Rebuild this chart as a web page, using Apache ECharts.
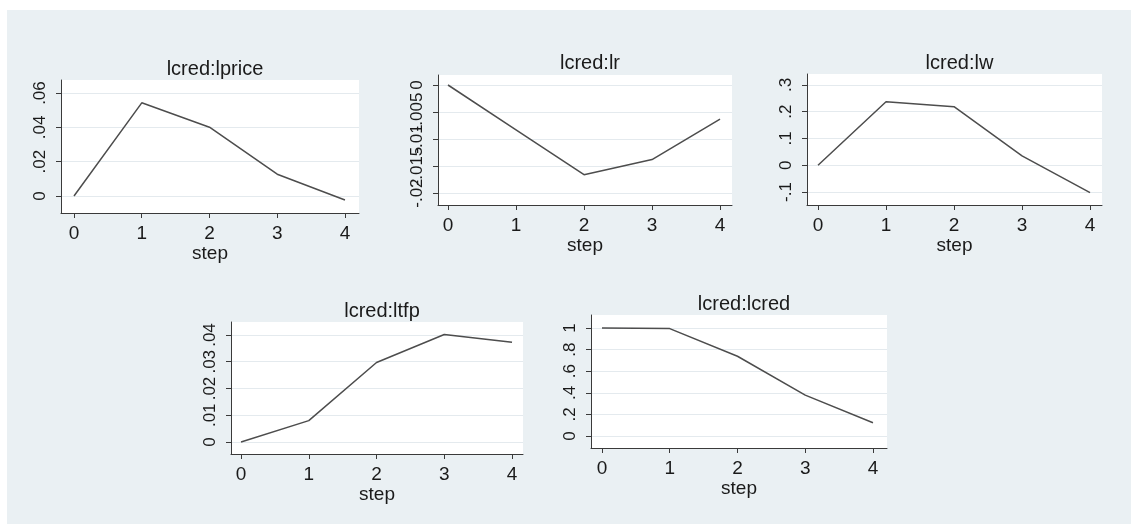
<!DOCTYPE html>
<html>
<head>
<meta charset="utf-8">
<script src="https://cdn.jsdelivr.net/npm/echarts@6/dist/echarts.min.js"></script>
<style>
html,body{margin:0;padding:0;background:#fff;}
#bg{position:absolute;left:7px;top:10px;right:0;bottom:0;background:#eaf0f3;}
#chart{position:absolute;left:0;top:0;width:1131px;height:524px;}
</style>
</head>
<body>
<div id="bg"></div>
<div id="chart"></div>
<script>
// ---- data ----
var steps = [0, 1, 2, 3, 4];
var titles = ['lcred:lprice', 'lcred:lr', 'lcred:lw', 'lcred:ltfp', 'lcred:lcred'];
var lprice = [0, 0.0543, 0.0401, 0.0127, -0.0023];
var lr = [0, -0.0083, -0.0166, -0.0138, -0.0063];
var lw = [0, 0.2375, 0.219, 0.035, -0.1025];
var ltfp = [0, 0.0080, 0.0297, 0.0402, 0.0373];
var lcred = [1, 0.994, 0.738, 0.378, 0.123];
var xTicks = [0, 1, 2, 3, 4];
var lpriceTicks = [0, 0.02, 0.04, 0.06];
var lrTicks = [-0.02, -0.015, -0.01, -0.005, 0];
var lwTicks = [-0.1, 0, 0.1, 0.2, 0.3];
var ltfpTicks = [0, 0.01, 0.02, 0.03, 0.04];
var lcredTicks = [0, 0.2, 0.4, 0.6, 0.8, 1];
var xLabel = 'step';

var seriesValues = [lprice, lr, lw, ltfp, lcred];
var yTickSets = [lpriceTicks, lrTicks, lwTicks, ltfpTicks, lcredTicks];

// ---- layout ----
var grids = [
  {left: 61, top: 80, width: 298, height: 133},
  {left: 438, top: 75, width: 294, height: 130},
  {left: 807, top: 74, width: 295, height: 131},
  {left: 231, top: 322, width: 292, height: 132},
  {left: 591, top: 315, width: 296, height: 133}
];
var xRanges = [[-0.192, 4.207], [-0.147, 4.176], [-0.162, 4.176], [-0.148, 4.162], [-0.162, 4.207]];
var yRanges = [[-0.0099, 0.0676], [-0.0222, 0.00185], [-0.1486, 0.341], [-0.00449, 0.04486], [-0.111, 1.12]];
var titleTops = [54, 48, 48, 296, 289];

var FONT = 'Liberation Sans, Arial, sans-serif';
var AX = '#3a3a3a';

function stataFmt(v) {
  var s = String(parseFloat(Number(v).toFixed(6)));
  return s.replace(/^0\./, '.').replace(/^-0\./, '-.');
}

var option = {
  animation: false,
  title: [], grid: [], xAxis: [], yAxis: [], series: []
};

for (var i = 0; i < 5; i++) {
  var g = grids[i];
  var ticks = yTickSets[i];
  var evenTicks = ticks.filter(function (t, k) { return k % 2 === 0; });
  var oddTicks = ticks.filter(function (t, k) { return k % 2 === 1; });
  option.grid.push({
    left: g.left, top: g.top, width: g.width, height: g.height,
    show: true, backgroundColor: '#ffffff', borderWidth: 0, containLabel: false
  });
  option.title.push({
    text: titles[i],
    left: g.left + g.width / 2,
    top: titleTops[i],
    textAlign: 'center',
    textStyle: {fontFamily: FONT, fontSize: 20, fontWeight: 'normal', color: '#1a1a1a'}
  });
  option.xAxis.push({
    type: 'value', gridIndex: i,
    min: xRanges[i][0], max: xRanges[i][1],
    name: xLabel, nameLocation: 'middle', nameGap: 28,
    nameTextStyle: {fontFamily: FONT, fontSize: 19, color: '#1a1a1a'},
    axisLine: {show: true, onZero: false, lineStyle: {color: AX, width: 1}},
    axisTick: {show: true, length: 5, customValues: xTicks, lineStyle: {color: AX}},
    axisLabel: {show: true, customValues: xTicks, margin: 11, hideOverlap: false,
      fontFamily: FONT, fontSize: 19, color: '#1a1a1a',
      formatter: function (v) { return String(v); }},
    splitLine: {show: false}
  });
  // main y axis: line, all ticks, gridlines, labels at even positions
  option.yAxis.push({
    type: 'value', gridIndex: i, position: 'left',
    min: yRanges[i][0], max: yRanges[i][1],
    axisLine: {show: true, onZero: false, lineStyle: {color: AX, width: 1}},
    axisTick: {show: true, length: 5, customValues: ticks, lineStyle: {color: AX}},
    axisLabel: {show: true, customValues: evenTicks, rotate: 90, margin: 12,
      hideOverlap: false, showMinLabel: true, showMaxLabel: true,
      fontFamily: FONT, fontSize: 17, color: '#1a1a1a',
      formatter: stataFmt},
    splitLine: {show: true, lineStyle: {color: '#e4eaee', width: 1}}
  });
  // companion y axis carrying the labels at odd positions (same scale)
  option.yAxis.push({
    type: 'value', gridIndex: i, position: 'left', offset: 0,
    min: yRanges[i][0], max: yRanges[i][1],
    axisLine: {show: false, onZero: false},
    axisTick: {show: false},
    axisLabel: {show: oddTicks.length > 0, customValues: oddTicks.length ? oddTicks : [ticks[0]], rotate: 90, margin: 12,
      hideOverlap: false, showMinLabel: true, showMaxLabel: true,
      fontFamily: FONT, fontSize: 17, color: '#1a1a1a',
      formatter: stataFmt},
    splitLine: {show: false}
  });
  var vals = seriesValues[i];
  option.series.push({
    type: 'line', xAxisIndex: i, yAxisIndex: 2 * i,
    data: steps.map(function (s, k) { return [s, vals[k]]; }),
    showSymbol: false, symbol: 'none',
    lineStyle: {color: '#4d4d4d', width: 1.5},
    silent: true
  });
}

var chart = echarts.init(document.getElementById('chart'), null, {renderer: 'canvas'});
chart.setOption(option);
</script>
</body>
</html>
